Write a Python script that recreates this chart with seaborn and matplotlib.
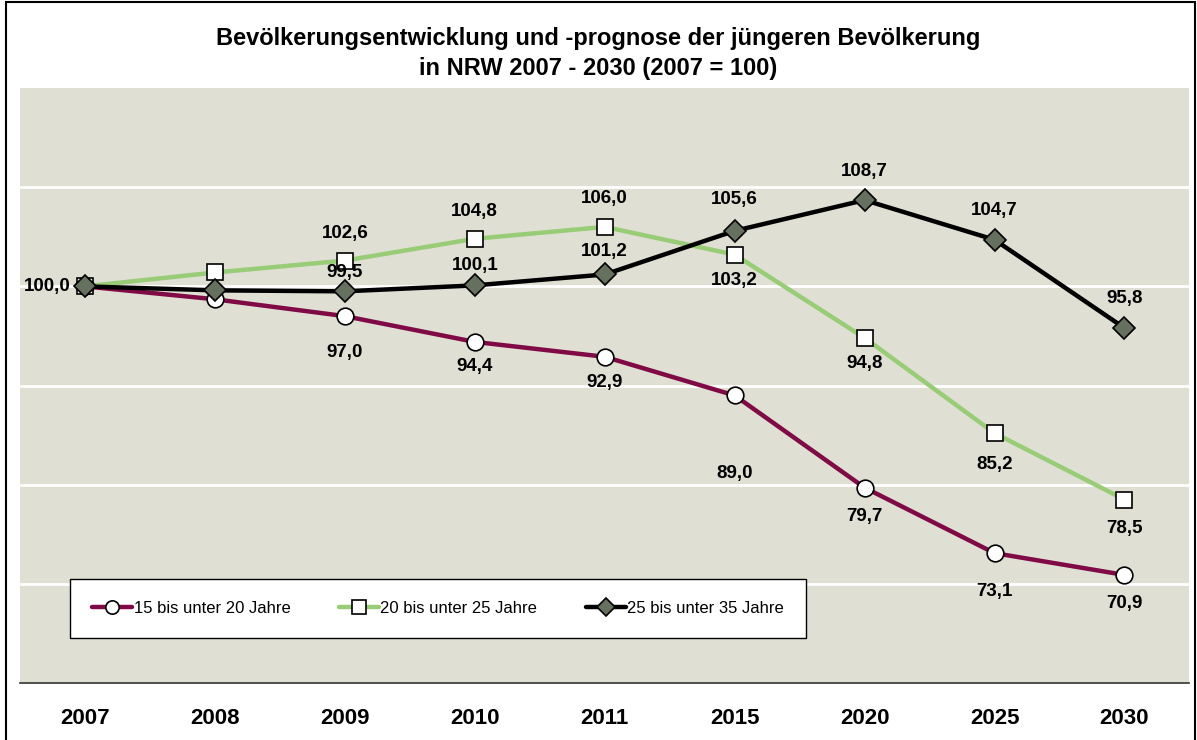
import seaborn as sns
import matplotlib.pyplot as plt
from matplotlib.patches import Rectangle
from matplotlib.lines import Line2D

# Daten (2007 = 100)
jahre = ["2007", "2008", "2009", "2010", "2011", "2015", "2020", "2025", "2030"]
gruppen = ["15 bis unter 20 Jahre", "20 bis unter 25 Jahre", "25 bis unter 35 Jahre"]
werte_15_20 = [100.0, 98.7, 97.0, 94.4, 92.9, 89.0, 79.7, 73.1, 70.9]
werte_20_25 = [100.0, 101.4, 102.6, 104.8, 106.0, 103.2, 94.8, 85.2, 78.5]
werte_25_35 = [100.0, 99.6, 99.5, 100.1, 101.2, 105.6, 108.7, 104.7, 95.8]
# welche Punkte beschriftet werden
beschriftet_15_20 = [True, False, True, True, True, True, True, True, True]
beschriftet_20_25 = [False, False, True, True, True, True, True, True, True]
beschriftet_25_35 = [False, False, True, True, True, True, True, True, True]

# Label-Versatz in Pixeln (dx, dy nach oben)
off_15_20 = [(-38, 0), None, (0, -36), (0, -25), (0, -26), (0, -78), (0, -29), (0, -38), (0, -29)]
off_20_25 = [None, None, (0, 27), (0, 27), (0, 28), (0, -26), (0, -26), (0, -31), (0, -29)]
off_25_35 = [None, None, (0, 19), (0, 20), (0, 23), (0, 31), (0, 29), (0, 29), (0, 30)]

sns.set_style("white")
plt.rcParams["font.family"] = ["Liberation Sans", "DejaVu Sans"]
plt.rcParams["text.color"] = "black"
plt.rcParams["xtick.color"] = "black"

fig = plt.figure(figsize=(11.97, 7.40), dpi=100)
ax = fig.add_axes([0.0167, 0.077, 0.977, 0.804])
ax.set_facecolor("#dfe0d3")

pos = list(range(len(jahre)))
serien = [
    (werte_15_20, beschriftet_15_20, off_15_20, "#7f0a45", "o", "white", 12),
    (werte_20_25, beschriftet_20_25, off_20_25, "#99cc77", "s", "white", 12),
    (werte_25_35, beschriftet_25_35, off_25_35, "black", "D", "#66705f", 11),
]

handles = []
for (werte, besch, offs, farbe, marker, fuell, ms), name in zip(serien, gruppen):
    sns.lineplot(x=pos, y=werte, ax=ax, color=farbe, linewidth=3.2,
                 marker=marker, markersize=ms, markerfacecolor=fuell,
                 markeredgecolor="black", markeredgewidth=1.2, zorder=3)
    handles.append(Line2D([0], [0], color=farbe, linewidth=3.2, marker=marker,
                          markersize=ms * 0.8, markerfacecolor=fuell,
                          markeredgecolor="black", markeredgewidth=1.2, label=name))
    for i, (v, b, o) in enumerate(zip(werte, besch, offs)):
        if b:
            ax.annotate(f"{v:.1f}".replace(".", ","), (i, v), xytext=o,
                        textcoords="offset pixels", ha="center", va="center",
                        fontsize=13.5, fontweight="bold", zorder=5)

ax.set_xlim(-0.5, len(jahre) - 0.5)
ax.set_ylim(60, 120)
ax.set_yticks([70, 80, 90, 100, 110])
ax.set_yticklabels([])
ax.grid(axis="y", color="white", linewidth=2)
ax.set_axisbelow(True)
ax.tick_params(axis="y", length=0)

ax.set_xticks(pos)
ax.set_xticklabels(jahre, fontsize=16, fontweight="bold")
ax.tick_params(axis="x", which="major", length=0, pad=18)
ax.set_xticks([p - 0.5 for p in pos] + [len(jahre) - 0.5], minor=True)
ax.tick_params(axis="x", which="minor", length=7, width=1, color="#555555", direction="out")

for s in ["top", "right", "left"]:
    ax.spines[s].set_visible(False)
ax.spines["bottom"].set_color("#333333")
ax.spines["bottom"].set_linewidth(1.2)

leg = ax.legend(handles=handles, loc="lower left", ncol=3,
                bbox_to_anchor=(0.043, 0.076, 0.629, 0.10), mode="expand",
                frameon=True, fancybox=False, fontsize=12, handlelength=2.4,
                handletextpad=0.1, borderaxespad=0, borderpad=1.3)
leg.get_frame().set_edgecolor("black")
leg.get_frame().set_linewidth(1)
leg.get_frame().set_facecolor("white")
leg.get_frame().set_alpha(1)

fig.text(0.5, 0.948, "Bevölkerungsentwicklung und -prognose der jüngeren Bevölkerung",
         ha="center", va="center", fontsize=17, fontweight="bold")
fig.text(0.5, 0.908, "in NRW 2007 - 2030 (2007 = 100)",
         ha="center", va="center", fontsize=17, fontweight="bold")

fig.patches.append(Rectangle((0.005, -0.01), 0.993, 1.007, transform=fig.transFigure,
                             fill=False, edgecolor="black", linewidth=1.5))

fig.savefig("out.png", dpi=100)
